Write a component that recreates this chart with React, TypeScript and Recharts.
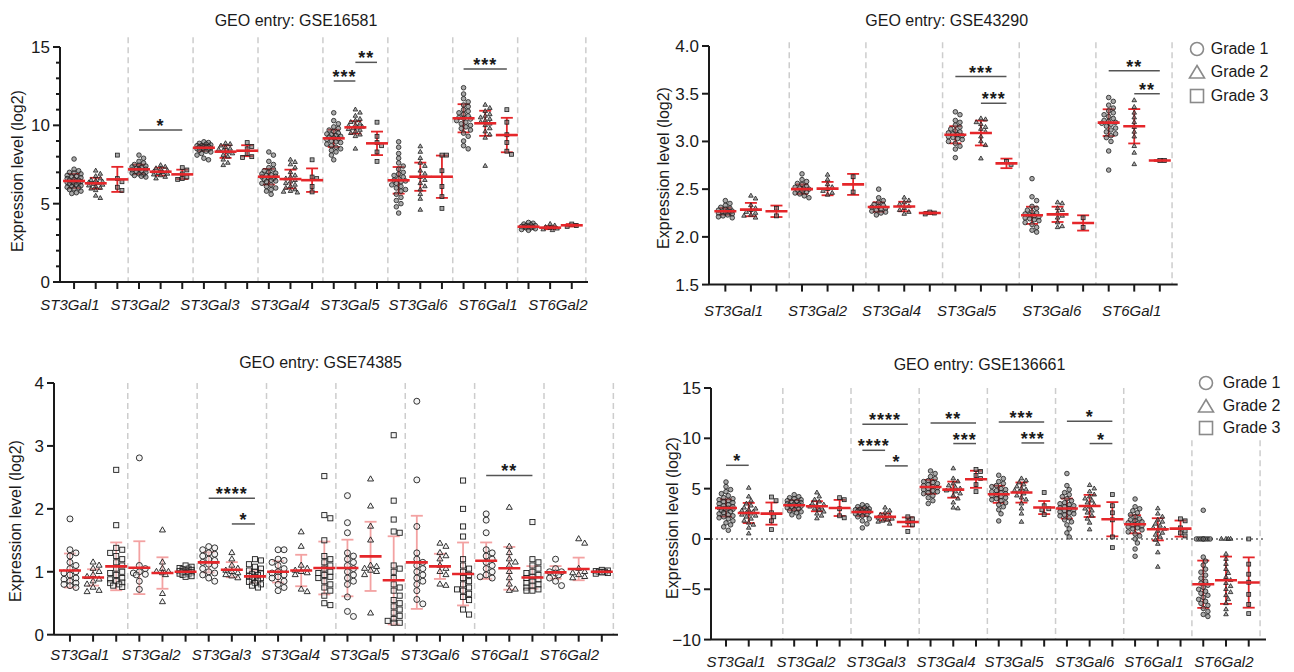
import React from 'react';
import { ScatterChart, Scatter, XAxis, YAxis, ReferenceLine, ErrorBar } from 'recharts';

const FONT = '"Liberation Sans", Arial, Helvetica, sans-serif';
const INK = '#1a1a1a';
const RED = '#e5262a';

type Sig = { from: number; to: number; y: number; stars: string };

// ---------- GSE16581 ----------
const gse16581Genes = ['ST3Gal1', 'ST3Gal2', 'ST3Gal3', 'ST3Gal4', 'ST3Gal5', 'ST3Gal6', 'ST6Gal1', 'ST6Gal2'];
const gse16581Grade1 = [
  [7.85, 7.2, 7.1, 7.0, 6.95, 6.9, 6.8, 6.75, 6.7, 6.65, 6.6, 6.55, 6.5, 6.5, 6.45, 6.4, 6.4, 6.35, 6.3, 6.3, 6.25, 6.2, 6.15, 6.1, 6.05, 6.0, 5.95, 5.9, 5.8, 5.7, 5.65],
  [8.1, 7.9, 7.7, 7.6, 7.5, 7.45, 7.4, 7.35, 7.3, 7.25, 7.2, 7.2, 7.15, 7.1, 7.05, 7.0, 6.95, 6.9, 6.85, 6.8, 6.75, 6.7],
  [8.95, 8.9, 8.85, 8.8, 8.75, 8.7, 8.7, 8.65, 8.65, 8.6, 8.6, 8.55, 8.55, 8.5, 8.5, 8.45, 8.4, 8.35, 8.3, 8.2, 8.1, 7.9, 7.8],
  [8.3, 8.1, 7.7, 7.5, 7.3, 7.2, 7.1, 7.0, 6.95, 6.9, 6.85, 6.8, 6.75, 6.7, 6.65, 6.6, 6.55, 6.5, 6.45, 6.4, 6.3, 6.2, 6.1, 6.0, 5.9, 5.8, 5.6],
  [10.8, 10.3, 10.1, 9.9, 9.8, 9.7, 9.6, 9.5, 9.45, 9.4, 9.35, 9.3, 9.25, 9.2, 9.15, 9.1, 9.0, 8.95, 8.9, 8.8, 8.7, 8.6, 8.5, 8.4, 8.3, 8.1, 7.8],
  [8.95, 8.6, 8.2, 7.9, 7.6, 7.4, 7.2, 7.0, 6.9, 6.8, 6.7, 6.6, 6.5, 6.45, 6.4, 6.3, 6.2, 6.1, 6.0, 5.9, 5.8, 5.6, 5.4, 5.2, 5.0, 4.8, 4.4],
  [12.4, 12.0, 11.7, 11.5, 11.3, 11.2, 11.0, 10.9, 10.8, 10.7, 10.6, 10.5, 10.45, 10.4, 10.3, 10.2, 10.1, 10.0, 9.9, 9.8, 9.7, 9.5, 9.3, 9.0, 8.7, 8.5],
  [3.8, 3.75, 3.7, 3.65, 3.6, 3.6, 3.55, 3.55, 3.5, 3.5, 3.45, 3.45, 3.4, 3.35, 3.3],
];
const gse16581Grade2 = [
  [7.1, 6.9, 6.75, 6.6, 6.5, 6.45, 6.4, 6.35, 6.3, 6.25, 6.2, 6.15, 6.1, 6.0, 5.95, 5.85, 5.5, 5.35],
  [7.45, 7.35, 7.25, 7.2, 7.1, 7.05, 7.0, 6.95, 6.9, 6.85, 6.8, 6.7, 6.6],
  [8.85, 8.8, 8.7, 8.6, 8.5, 8.45, 8.4, 8.3, 8.2, 8.1, 8.0, 7.8, 7.6, 7.45],
  [7.8, 7.65, 7.5, 7.3, 7.0, 6.8, 6.7, 6.6, 6.5, 6.4, 6.3, 6.2, 6.1, 6.0, 5.9, 5.8, 5.75, 5.7],
  [11.0, 10.8, 10.6, 10.4, 10.3, 10.2, 10.1, 10.0, 9.95, 9.9, 9.85, 9.8, 9.75, 9.7, 9.6, 9.5, 9.4, 9.3, 8.5],
  [8.65, 8.3, 7.9, 7.6, 7.4, 7.1, 6.9, 6.7, 6.5, 6.3, 6.1, 5.9, 5.6, 5.3, 4.6],
  [11.3, 11.1, 10.9, 10.7, 10.6, 10.5, 10.4, 10.3, 10.2, 10.1, 10.0, 9.8, 9.6, 9.4, 9.2, 7.4],
  [3.7, 3.6, 3.5, 3.45, 3.4, 3.35, 3.3],
];
const gse16581Grade3 = [
  [8.1, 6.6, 6.4, 6.05, 5.85],
  [7.3, 7.15, 6.9, 6.7, 6.6, 6.55],
  [8.9, 8.65, 8.5, 8.2, 8.0, 7.95],
  [7.8, 6.7, 6.6, 6.1, 5.75],
  [10.2, 9.3, 8.9, 8.7, 8.3, 7.7],
  [8.1, 8.1, 7.1, 6.1, 5.45, 4.7],
  [11.0, 10.2, 9.4, 8.9, 8.35, 8.15],
  [3.7, 3.6, 3.55],
];
const gse16581Mean = [[6.45, 6.3, 6.55], [7.19, 7.04, 6.87], [8.57, 8.32, 8.38], [6.72, 6.57, 6.5], [9.17, 9.87, 8.85], [6.49, 6.72, 6.72], [10.45, 10.13, 9.38], [3.53, 3.47, 3.62]];
const gse16581Sd = [[0.45, 0.35, 0.8], [0.3, 0.25, 0.3], [0.2, 0.4, 0.35], [0.5, 0.6, 0.75], [0.55, 0.4, 0.75], [0.85, 0.9, 1.35], [0.9, 0.8, 1.1], [0.12, 0.1, 0.08]];
const gse16581Sig: Sig[] = [
  { from: 3, to: 5, y: 9.7, stars: '*' },
  { from: 12, to: 13, y: 12.83, stars: '***' },
  { from: 13, to: 14, y: 14.02, stars: '**' },
  { from: 18, to: 20, y: 13.6, stars: '***' },
];

// ---------- GSE43290 ----------
const gse43290Genes = ['ST3Gal1', 'ST3Gal2', 'ST3Gal4', 'ST3Gal5', 'ST3Gal6', 'ST6Gal1'];
const gse43290Grade1 = [
  [2.38, 2.35, 2.33, 2.31, 2.3, 2.29, 2.28, 2.27, 2.27, 2.26, 2.26, 2.25, 2.25, 2.24, 2.23, 2.22, 2.21, 2.2],
  [2.66, 2.6, 2.58, 2.56, 2.55, 2.53, 2.52, 2.51, 2.5, 2.5, 2.49, 2.48, 2.47, 2.46, 2.45, 2.43, 2.41],
  [2.5, 2.41, 2.38, 2.36, 2.34, 2.33, 2.32, 2.31, 2.3, 2.29, 2.28, 2.27, 2.26, 2.25, 2.23],
  [3.31, 3.28, 3.22, 3.2, 3.17, 3.15, 3.13, 3.11, 3.1, 3.09, 3.08, 3.07, 3.06, 3.05, 3.04, 3.03, 3.02, 3.0, 2.98, 2.95, 2.92, 2.83],
  [2.61, 2.42, 2.38, 2.32, 2.3, 2.28, 2.26, 2.25, 2.24, 2.23, 2.22, 2.21, 2.2, 2.19, 2.18, 2.17, 2.15, 2.13, 2.1, 2.07, 2.05],
  [3.46, 3.42, 3.38, 3.35, 3.32, 3.3, 3.28, 3.26, 3.24, 3.22, 3.21, 3.2, 3.19, 3.18, 3.16, 3.14, 3.12, 3.1, 3.08, 3.06, 3.04, 3.0, 2.9, 2.7],
];
const gse43290Grade2 = [
  [2.43, 2.4, 2.33, 2.3, 2.28, 2.26, 2.25, 2.23, 2.22, 2.2],
  [2.65, 2.6, 2.55, 2.52, 2.5, 2.48, 2.46, 2.44],
  [2.41, 2.38, 2.36, 2.34, 2.32, 2.3, 2.28, 2.26, 2.24],
  [3.24, 3.23, 3.2, 3.18, 3.15, 3.13, 3.1, 3.05, 3.0, 2.96, 2.82],
  [2.36, 2.35, 2.3, 2.28, 2.25, 2.22, 2.2, 2.15, 2.11, 2.1],
  [3.43, 3.36, 3.3, 3.25, 3.2, 3.15, 3.1, 3.05, 2.95, 2.88, 2.76],
];
const gse43290Grade3 = [[2.3, 2.22], [2.63, 2.47], [2.26, 2.25, 2.24], [2.79, 2.76], [2.2, 2.1], [2.8, 2.8]];
const gse43290Mean = [[2.268, 2.286, 2.268], [2.5, 2.506, 2.55], [2.313, 2.318, 2.25], [3.07, 3.088, 2.77], [2.226, 2.236, 2.146], [3.197, 3.159, 2.8]];
const gse43290Sd = [[0.035, 0.07, 0.06], [0.05, 0.07, 0.11], [0.05, 0.05, 0.012], [0.09, 0.13, 0.05], [0.09, 0.08, 0.08], [0.14, 0.18, 0.005]];
const gse43290Sig: Sig[] = [
  { from: 9, to: 11, y: 3.68, stars: '***' },
  { from: 10, to: 11, y: 3.4, stars: '***' },
  { from: 15, to: 17, y: 3.74, stars: '**' },
  { from: 16, to: 17, y: 3.5, stars: '**' },
];

// ---------- GSE74385 ----------
const gse74385Genes = ['ST3Gal1', 'ST3Gal2', 'ST3Gal3', 'ST3Gal4', 'ST3Gal5', 'ST3Gal6', 'ST6Gal1', 'ST6Gal2'];
const gse74385Grade1 = [
  [1.84, 1.35, 1.3, 1.25, 1.15, 1.1, 1.05, 1.0, 0.98, 0.95, 0.9, 0.88, 0.85, 0.82, 0.8, 0.78, 0.75],
  [2.81, 1.1, 1.05, 1.0, 0.98, 0.96, 0.95, 0.85, 0.72],
  [1.4, 1.38, 1.35, 1.3, 1.28, 1.25, 1.2, 1.18, 1.15, 1.12, 1.1, 1.05, 1.0, 0.98, 0.95, 0.9, 0.85],
  [1.35, 1.35, 1.2, 1.18, 1.15, 1.1, 1.05, 1.0, 0.98, 0.95, 0.92, 0.9, 0.85, 0.8, 0.75, 0.7],
  [2.21, 1.78, 1.62, 1.3, 1.25, 1.2, 1.15, 1.1, 1.05, 1.0, 0.95, 0.9, 0.85, 0.8, 0.6, 0.37, 0.29],
  [3.71, 2.46, 1.72, 1.3, 1.2, 1.15, 1.1, 1.05, 1.0, 0.95, 0.9, 0.85, 0.8, 0.7, 0.56, 0.49],
  [1.92, 1.82, 1.62, 1.35, 1.3, 1.25, 1.2, 1.15, 1.1, 1.05, 1.0, 0.95, 0.92, 0.9],
  [1.2, 1.05, 1.0, 1.0, 0.98, 0.95, 0.9, 0.85, 0.78],
];
const gse74385Grade2 = [
  [1.15, 1.1, 1.05, 1.0, 0.95, 0.92, 0.88, 0.85, 0.8, 0.75, 0.7, 0.68],
  [1.66, 1.15, 1.05, 1.0, 1.0, 0.98, 0.95, 0.65, 0.52],
  [1.3, 1.2, 1.1, 1.05, 1.02, 1.0, 0.98, 0.95, 0.93, 0.9],
  [1.63, 1.4, 1.1, 1.05, 1.02, 1.0, 0.98, 0.95, 0.72, 0.68],
  [2.47, 2.04, 1.72, 1.5, 1.1, 1.08, 1.05, 1.02, 1.0, 0.95, 0.34],
  [1.45, 1.4, 1.3, 1.25, 1.2, 1.1, 1.05, 1.0, 0.95, 0.8, 0.78],
  [2.02, 1.4, 1.3, 1.2, 1.15, 1.1, 1.0, 0.9, 0.8, 0.72, 0.7],
  [1.52, 1.45, 1.05, 1.0, 0.98, 0.95, 0.92, 0.9],
];
const gse74385Grade3 = [
  [2.62, 1.74, 1.38, 1.35, 1.3, 1.25, 1.2, 1.15, 1.1, 1.05, 1.0, 0.98, 0.95, 0.9, 0.88, 0.85, 0.83, 0.82, 0.8, 0.78, 0.76],
  [1.1, 1.08, 1.06, 1.05, 1.04, 1.03, 1.02, 1.01, 1.0, 1.0, 0.99, 0.98, 0.97, 0.96, 0.95, 0.93, 0.92],
  [1.2, 1.18, 1.12, 1.08, 1.05, 1.02, 1.0, 0.98, 0.96, 0.95, 0.93, 0.92, 0.9, 0.88, 0.86, 0.84, 0.82, 0.8, 0.78, 0.75],
  [2.52, 1.9, 1.85, 1.5, 1.25, 1.2, 1.15, 1.1, 1.05, 1.0, 0.98, 0.95, 0.92, 0.9, 0.85, 0.8, 0.75, 0.7, 0.62, 0.5, 0.47],
  [3.17, 2.13, 1.83, 1.64, 1.62, 1.1, 1.05, 1.0, 0.9, 0.8, 0.75, 0.7, 0.62, 0.55, 0.5, 0.45, 0.4, 0.35, 0.3, 0.25, 0.22, 0.19, 0.19],
  [2.45, 2.0, 1.72, 1.56, 1.2, 1.1, 1.05, 1.0, 0.95, 0.9, 0.85, 0.8, 0.75, 0.72, 0.7, 0.65, 0.6, 0.55, 0.4, 0.32],
  [1.79, 1.2, 1.15, 1.1, 1.05, 1.0, 0.98, 0.95, 0.92, 0.9, 0.88, 0.85, 0.82, 0.8, 0.78, 0.75, 0.72, 0.7, 0.7],
  [1.03, 1.02, 1.01, 1.0, 1.0, 0.99, 0.98, 0.97],
];
const gse74385Mean = [[1.02, 0.91, 1.086], [1.065, 0.98, 1.0], [1.15, 1.033, 0.927], [1.0, 1.02, 1.06], [1.06, 1.245, 0.864], [1.15, 1.086, 0.965], [1.176, 1.055, 0.91], [0.99, 1.045, 1.0]];
const gse74385Sd = [[0.27, 0.13, 0.38], [0.42, 0.25, 0.05], [0.16, 0.12, 0.1], [0.17, 0.25, 0.42], [0.45, 0.55, 0.7], [0.74, 0.2, 0.5], [0.29, 0.34, 0.18], [0.1, 0.18, 0.02]];
const gse74385Sig: Sig[] = [
  { from: 6, to: 8, y: 2.17, stars: '****' },
  { from: 7, to: 8, y: 1.76, stars: '*' },
  { from: 18, to: 20, y: 2.53, stars: '**' },
];

// ---------- GSE136661 ----------
const gse136661Genes = ['ST3Gal1', 'ST3Gal2', 'ST3Gal3', 'ST3Gal4', 'ST3Gal5', 'ST3Gal6', 'ST6Gal1', 'ST6Gal2'];
const gse136661Grade1 = [
  [5.66, 5.2, 4.9, 4.7, 4.5, 4.3, 4.1, 4.0, 3.9, 3.8, 3.7, 3.6, 3.5, 3.4, 3.3, 3.2, 3.1, 3.05, 3.0, 2.95, 2.9, 2.8, 2.7, 2.6, 2.5, 2.4, 2.3, 2.2, 2.1, 2.0, 1.8, 1.6, 1.4, 1.2, 0.86],
  [4.4, 4.2, 4.1, 4.0, 3.9, 3.8, 3.7, 3.65, 3.6, 3.5, 3.45, 3.4, 3.35, 3.3, 3.25, 3.2, 3.1, 3.0, 2.9, 2.8, 2.7, 2.6, 2.4, 2.2],
  [3.4, 3.3, 3.2, 3.1, 3.0, 2.95, 2.9, 2.85, 2.8, 2.75, 2.7, 2.65, 2.6, 2.5, 2.4, 2.3, 2.2, 2.0, 1.8, 1.5, 1.1],
  [6.76, 6.5, 6.2, 6.0, 5.8, 5.7, 5.6, 5.5, 5.4, 5.3, 5.2, 5.1, 5.0, 4.9, 4.8, 4.7, 4.6, 4.5, 4.3, 4.1, 3.8, 3.52],
  [6.33, 6.0, 5.7, 5.5, 5.3, 5.2, 5.0, 4.9, 4.8, 4.7, 4.6, 4.5, 4.4, 4.3, 4.2, 4.1, 4.0, 3.9, 3.8, 3.6, 3.4, 3.2, 2.9, 2.5, 1.79],
  [6.5, 5.3, 4.9, 4.6, 4.4, 4.2, 4.0, 3.8, 3.6, 3.5, 3.4, 3.3, 3.2, 3.1, 3.0, 2.9, 2.8, 2.7, 2.6, 2.5, 2.4, 2.3, 2.1, 1.9, 1.7, 1.4, 1.0, 0.6, 0.2],
  [3.97, 3.2, 3.0, 2.8, 2.6, 2.4, 2.2, 2.0, 1.9, 1.8, 1.7, 1.6, 1.5, 1.4, 1.3, 1.2, 1.1, 1.0, 0.9, 0.7, 0.5, 0.3, 0.0, -0.4, -1.0, -1.72],
  [2.85, 0, 0, 0, 0, 0, 0, 0, 0, -1.8, -2.2, -2.6, -3.0, -3.3, -3.6, -3.9, -4.2, -4.4, -4.6, -4.8, -5.0, -5.2, -5.4, -5.6, -5.8, -6.0, -6.2, -6.4, -6.6, -6.9, -7.2, -7.5, -7.7],
];
const gse136661Grade2 = [
  [5.07, 4.2, 3.8, 3.5, 3.3, 3.1, 3.0, 2.9, 2.8, 2.7, 2.6, 2.5, 2.4, 2.3, 2.2, 2.0, 1.8, 1.6, 1.4, 1.1, 0.53],
  [4.6, 4.2, 3.9, 3.7, 3.5, 3.4, 3.3, 3.2, 3.1, 3.0, 2.9, 2.7, 2.5, 2.3, 2.03],
  [3.1, 2.8, 2.6, 2.4, 2.3, 2.2, 2.1, 2.0, 1.9, 1.8, 1.7, 1.5],
  [7.0, 6.0, 5.7, 5.5, 5.3, 5.1, 5.0, 4.9, 4.8, 4.7, 4.5, 4.3, 4.0, 3.6, 3.1, 3.02],
  [6.0, 5.8, 5.6, 5.4, 5.2, 5.0, 4.9, 4.8, 4.7, 4.5, 4.3, 4.1, 3.9, 3.5, 3.0, 2.5, 1.69],
  [5.34, 5.0, 4.7, 4.4, 4.2, 4.0, 3.8, 3.6, 3.4, 3.2, 3.0, 2.8, 2.6, 2.3, 2.0, 1.6, 0.93],
  [3.02, 2.5, 2.2, 1.9, 1.7, 1.5, 1.3, 1.1, 1.0, 0.8, 0.6, 0.4, 0.2, -0.1, -0.5, -1.35, -2.78],
  [0, 0, 0, 0, -1.5, -2.0, -2.5, -3.0, -3.4, -3.8, -4.1, -4.4, -4.7, -5.0, -5.3, -5.6, -6.0, -6.4, -7.0, -7.5],
];
const gse136661Grade3 = [
  [4.17, 3.8, 2.6, 2.2, 1.8, 0.93],
  [4.1, 3.9, 3.0, 2.3, 2.1],
  [2.2, 2.0, 1.7, 1.4, 0.75],
  [6.9, 6.7, 6.3, 6.0, 5.4, 4.7],
  [4.61, 3.3, 3.0, 2.9, 2.42],
  [4.41, 3.3, 2.6, 1.9, 0.2, -0.86],
  [2.0, 1.8, 1.1, 0.8, 0.6, 0.3],
  [0, -2.5, -3.5, -4.3, -5.5, -6.5, -7.42],
];
const gse136661Mean = [[3.08, 2.58, 2.52], [3.35, 3.25, 3.08], [2.68, 2.19, 1.69], [5.17, 4.9, 5.93], [4.44, 4.61, 3.12], [3.02, 3.28, 1.96], [1.46, 0.96, 1.03], [-4.5, -4.1, -4.33]];
const gse136661Sd = [[0.85, 1.0, 1.1], [0.5, 0.5, 0.8], [0.4, 0.35, 0.45], [0.7, 0.8, 0.85], [0.85, 1.0, 0.65], [1.0, 1.1, 1.7], [0.9, 1.1, 0.8], [2.35, 2.35, 2.5]];
const gse136661Sig: Sig[] = [
  { from: 0, to: 1, y: 7.32, stars: '*' },
  { from: 6, to: 8, y: 11.4, stars: '****' },
  { from: 6, to: 7, y: 8.81, stars: '****' },
  { from: 7, to: 8, y: 7.26, stars: '*' },
  { from: 9, to: 11, y: 11.53, stars: '**' },
  { from: 10, to: 11, y: 9.48, stars: '***' },
  { from: 12, to: 14, y: 11.63, stars: '***' },
  { from: 13, to: 14, y: 9.54, stars: '***' },
  { from: 15, to: 17, y: 11.7, stars: '*' },
  { from: 16, to: 17, y: 9.48, stars: '*' },
];

// simple beeswarm: returns x offsets (axis units) so dots don't pile up
function swarm(vals: number[], pxX: number, pxY: number, d: number, half: number): number[] {
  const placed: [number, number][] = [];
  const step = d / 2;
  const cands: number[] = [0];
  for (let k = 1; k * step <= half; k++) cands.push(k * step, -k * step);
  return vals.map((v) => {
    const y = v * pxY;
    let best = 0;
    let bestGap = -1;
    for (const c of cands) {
      let gap = Infinity;
      for (const [px, py] of placed) gap = Math.min(gap, Math.hypot(px - c, py - y));
      if (gap >= d) { best = c; break; }
      if (gap > bestGap) { bestGap = gap; best = c; }
    }
    placed.push([best, y]);
    return best / pxX;
  });
}

function Mark({ cx, cy, kind, r, st }: any) {
  if (kind === 0) return <circle cx={cx} cy={cy} r={r} {...st} />;
  if (kind === 1) {
    const s = r * 1.15;
    return <path d={`M${cx},${cy - s}L${cx + s * 0.87},${cy + s * 0.5}L${cx - s * 0.87},${cy + s * 0.5}Z`} {...st} />;
  }
  const a = r * 0.85;
  return <rect x={cx - a} y={cy - a} width={2 * a} height={2 * a} {...st} />;
}

interface PanelSpec {
  genes: string[];
  grades: number[][][];
  means: number[][];
  sds: number[][];
  sig: Sig[];
  plot: { left: number; top: number; width: number; height: number };
  xDomain: [number, number];
  yDomain: [number, number];
  yTicks: number[];
  majorStep: number;
  yFmt: (v: number) => string;
  labelAt: number[];
  labelDy: number;
  rightEdge: number;
  sepTop: number;
  trimmed?: number[];
  trimTop?: number;
  zeroLine?: boolean;
  hollow?: boolean;
  barColor: string;
}

function Panel(p: PanelSpec) {
  const { plot } = p;
  const pxX = plot.width / (p.xDomain[1] - p.xDomain[0]);
  const pxY = plot.height / (p.yDomain[1] - p.yDomain[0]);
  const dot = p.hollow ? 6 : 4.6;
  const r = p.hollow ? 3 : 2.3;
  const st = p.hollow
    ? { fill: '#e4e4e4', fillOpacity: 0.4, stroke: '#1e1e1e', strokeWidth: 0.9 }
    : { fill: '#6f6f6f', fillOpacity: 0.6, stroke: '#1e1e1e', strokeWidth: 0.8 };
  const ticks = Array.from({ length: p.genes.length * 3 }, (_, i) => i);
  const seps = Array.from({ length: p.genes.length - 1 }, (_, i) => i * 3 + 2.5).concat(p.rightEdge);

  const series = p.grades.map((vals, k) =>
    vals.flatMap((list, g) => {
      const offs = swarm(list, pxX, pxY, dot, 8.5);
      return list.map((v, i) => ({ x: g * 3 + k + offs[i], y: v }));
    })
  );
  const meanData = p.means.flatMap((m, g) => m.map((v, k) => ({ x: g * 3 + k, y: v, sd: p.sds[g][k] })));
  const starData = p.sig.map((s) => ({ x: (s.from + s.to) / 2, y: s.y, stars: s.stars }));

  const yTick = (t: any) => {
    const v = t.payload.value;
    const q = v / p.majorStep;
    const major = Math.abs(q - Math.round(q)) < 1e-6;
    return (
      <g>
        <line x1={t.x} x2={t.x - (major ? 7 : 4)} y1={t.y} y2={t.y} stroke={INK} strokeWidth={2} />
        {major && (
          <text x={t.x - 10} y={t.y} dy="0.35em" textAnchor="end" fontSize={17} fontFamily={FONT} fill={INK}>
            {p.yFmt(v)}
          </text>
        )}
      </g>
    );
  };
  const xTick = (t: any) => <line x1={t.x} x2={t.x} y1={t.y} y2={t.y + 7} stroke={INK} strokeWidth={2} />;
  const labTick = (t: any) => (
    <text x={t.x} y={t.y + p.labelDy} dy="0.35em" textAnchor="middle" fontSize={15} fontStyle="italic" fontFamily={FONT} fill={INK}>
      {p.genes[t.index]}
    </text>
  );

  return (
    <div style={{ position: 'absolute', left: plot.left - 50, top: plot.top - 14 }}>
      <ScatterChart width={plot.width + 60} height={plot.height + 52} margin={{ top: 14, right: 10, bottom: 0, left: 0 }}>
        <XAxis xAxisId={0} type="number" dataKey="x" domain={p.xDomain} allowDataOverflow ticks={ticks} interval={0}
          height={10} tickSize={0} tickMargin={0} tickLine={false} axisLine={{ stroke: INK, strokeWidth: 2 }} tick={xTick} />
        <XAxis xAxisId="lab" type="number" dataKey="x" domain={p.xDomain} allowDataOverflow ticks={p.labelAt} interval={0}
          height={28} tickSize={0} tickMargin={0} tickLine={false} axisLine={false} tick={labTick} />
        <YAxis type="number" dataKey="y" domain={p.yDomain} allowDataOverflow ticks={p.yTicks} interval={0} width={50}
          tickSize={0} tickMargin={0} tickLine={false} axisLine={{ stroke: INK, strokeWidth: 2 }} tick={yTick} />
        {seps.map((s) => {
          const top = p.trimmed && p.trimmed.includes(s) ? p.trimTop! : p.sepTop;
          return (
            <ReferenceLine key={'sep' + s} segment={[{ x: s, y: top }, { x: s, y: p.yDomain[0] }]} ifOverflow="visible"
              stroke="#cdcdcd" strokeWidth={1.5} strokeDasharray="6 4" />
          );
        })}
        {p.zeroLine && <ReferenceLine y={0} stroke="#666" strokeWidth={1.5} strokeDasharray="2 3" />}
        {p.sig.map((s, i) => (
          <ReferenceLine key={'sig' + i} segment={[{ x: s.from, y: s.y }, { x: s.to, y: s.y }]} stroke="#555" strokeWidth={1.5} />
        ))}
        {series.map((data, k) => (
          <Scatter key={'g' + k} data={data} isAnimationActive={false}
            shape={(s: any) => <Mark cx={s.cx} cy={s.cy} kind={k} r={r} st={st} />} />
        ))}
        <Scatter data={meanData} isAnimationActive={false}
          shape={(s: any) => <line x1={s.cx - 11} x2={s.cx + 11} y1={s.cy} y2={s.cy} stroke={RED} strokeWidth={2.6} />}>
          <ErrorBar dataKey="sd" direction="y" width={6} stroke={p.barColor} strokeWidth={1.8} />
        </Scatter>
        <Scatter data={starData} isAnimationActive={false}
          shape={(s: any) => (
            <text x={s.cx} y={s.cy + 2} textAnchor="middle" fontSize={18} letterSpacing={1} fontWeight="bold" fontFamily={FONT} fill={INK}>
              {s.payload.stars}
            </text>
          )} />
      </ScatterChart>
    </div>
  );
}

const Text = ({ x, y, children, rotate, size = 16 }: any) => (
  <div style={{
    position: 'absolute', left: x, top: y, whiteSpace: 'nowrap', lineHeight: 1, fontSize: size, color: INK,
    transform: `translate(-50%, -50%)${rotate ? ' rotate(-90deg)' : ''}`,
  }}>{children}</div>
);

const Legend = ({ cx, rows, textLeft }: { cx: number; rows: number[]; textLeft: number }) => (
  <>
    {rows.map((cy, k) => (
      <React.Fragment key={k}>
        <svg style={{ position: 'absolute', left: cx - 9, top: cy - 9 }} width={18} height={18}>
          {k === 0 && <circle cx={9} cy={9} r={6.5} fill="none" stroke="#8a8a8a" strokeWidth={1.6} />}
          {k === 1 && <path d="M9,2.5L16.5,15L1.5,15Z" fill="none" stroke="#8a8a8a" strokeWidth={1.6} />}
          {k === 2 && <rect x={2.5} y={2.5} width={13} height={13} fill="none" stroke="#8a8a8a" strokeWidth={1.6} />}
        </svg>
        <div style={{ position: 'absolute', left: textLeft, top: cy, transform: 'translateY(-50%)', fontSize: 16, lineHeight: 1, color: INK, whiteSpace: 'nowrap' }}>
          {`Grade ${k + 1}`}
        </div>
      </React.Fragment>
    ))}
  </>
);

const fmtInt = (v: number) => String(v);
const fmtOne = (v: number) => v.toFixed(1);
const fmtMinus = (v: number) => (v < 0 ? '\u2212' + Math.abs(v) : String(v));

export default function App() {
  return (
    <div style={{ position: 'absolute', left: 0, top: 0, width: 1294, height: 672, overflow: 'hidden', background: '#fff', fontFamily: FONT }}>
      <Panel genes={gse16581Genes} grades={[gse16581Grade1, gse16581Grade2, gse16581Grade3]} means={gse16581Mean} sds={gse16581Sd}
        sig={gse16581Sig} plot={{ left: 60, top: 47, width: 528, height: 235 }} xDomain={[-0.65, 23.75]} yDomain={[0, 15]}
        yTicks={Array.from({ length: 16 }, (_, i) => i)} majorStep={5} yFmt={fmtInt}
        labelAt={[-0.19, 3.05, 6.28, 9.52, 12.75, 15.9, 19.13, 22.36]} labelDy={13} rightEdge={23.65} sepTop={15.63} barColor={RED} />
      <Panel genes={gse43290Genes} grades={[gse43290Grade1, gse43290Grade2, gse43290Grade3]} means={gse43290Mean} sds={gse43290Sd}
        sig={gse43290Sig} plot={{ left: 709.3, top: 45.7, width: 468.7, height: 238.6 }} xDomain={[-0.64, 17.7]} yDomain={[1.5, 4]}
        yTicks={[1.5, 2, 2.5, 3, 3.5, 4]} majorStep={0.5} yFmt={fmtOne}
        labelAt={[0.32, 3.61, 6.5, 9.44, 12.77, 15.9]} labelDy={15.7} rightEdge={17.48} sepTop={4.04} barColor={RED} />
      <Panel genes={gse74385Genes} grades={[gse74385Grade1, gse74385Grade2, gse74385Grade3]} means={gse74385Mean} sds={gse74385Sd}
        sig={gse74385Sig} plot={{ left: 54, top: 383.3, width: 564, height: 251.7 }} xDomain={[-0.69, 23.7]} yDomain={[0, 4]}
        yTicks={[0, 1, 2, 3, 4]} majorStep={1} yFmt={fmtInt}
        labelAt={[0.43, 3.51, 6.55, 9.54, 12.53, 15.57, 18.6, 21.6]} labelDy={10} rightEdge={23.5} sepTop={4} hollow barColor="#f3a2a2" />
      <Panel genes={gse136661Genes} grades={[gse136661Grade1, gse136661Grade2, gse136661Grade3]} means={gse136661Mean} sds={gse136661Sd}
        sig={gse136661Sig} plot={{ left: 711, top: 387.7, width: 555, height: 251.6 }} xDomain={[-0.66, 23.76]} yDomain={[-10, 15]}
        yTicks={[-10, -5, 0, 5, 10, 15]} majorStep={5} yFmt={fmtMinus}
        labelAt={[0.44, 3.52, 6.6, 9.68, 12.67, 15.79, 18.83, 21.91]} labelDy={12.4} rightEdge={23.5} sepTop={15}
        trimmed={[20.5, 23.5]} trimTop={9.8} zeroLine barColor={RED} />

      <Text x={296} y={20.7}>GEO entry: GSE16581</Text>
      <Text x={946.7} y={20.7}>GEO entry: GSE43290</Text>
      <Text x={320.5} y={363.3}>GEO entry: GSE74385</Text>
      <Text x={979.5} y={365}>GEO entry: GSE136661</Text>

      <Text x={18} y={170.5} rotate>Expression level (log2)</Text>
      <Text x={664} y={168} rotate>Expression level (log2)</Text>
      <Text x={15.5} y={521} rotate>Expression level (log2)</Text>
      <Text x={673} y={518} rotate>Expression level (log2)</Text>

      <Legend cx={1197} rows={[49.3, 72, 95.5]} textLeft={1210.7} />
      <Legend cx={1206.3} rows={[382.7, 406, 428.3]} textLeft={1222.7} />
    </div>
  );
}
